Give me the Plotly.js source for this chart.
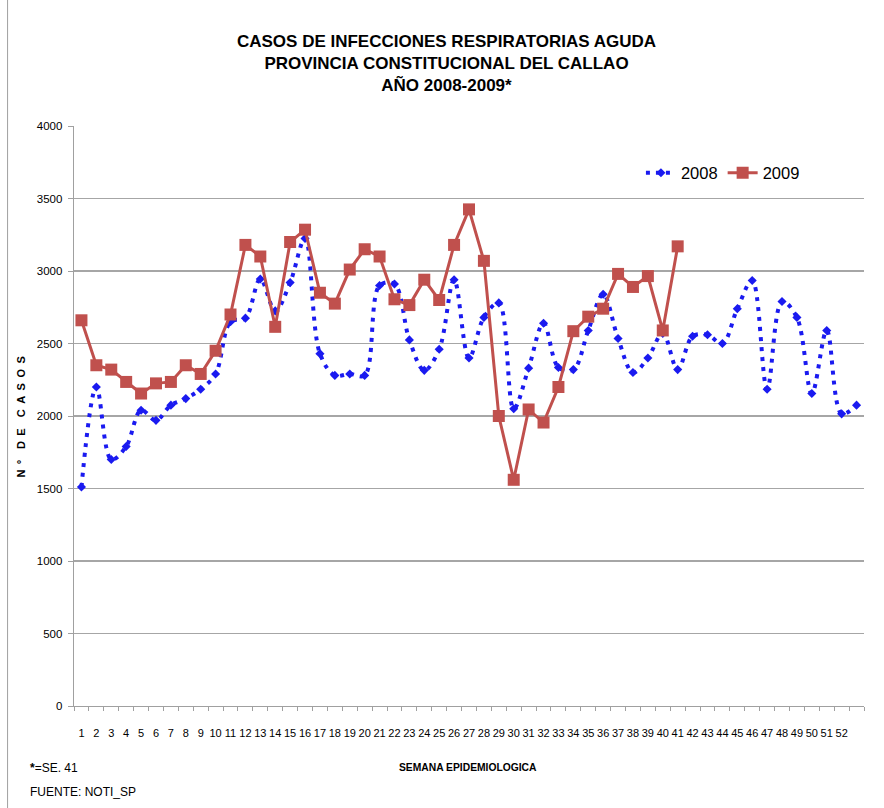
<!DOCTYPE html>
<html>
<head>
<meta charset="utf-8">
<script src="https://cdn.plot.ly/plotly-3.0.1.min.js"></script>
<style>
html,body{margin:0;padding:0;background:#fff;}
#chart{width:884px;height:808px;}
</style>
</head>
<body>
<div id="chart"></div>
<script>
// Semana epidemiológica (53 categories on the axis; week 53 has no label)
const weeks = [];
for (let i = 1; i <= 53; i++) weeks.push(i);
const tickLabels = [];
for (let i = 1; i <= 52; i++) tickLabels.push(String(i));
const tickPositions = weeks.slice(0, 52);

const casos2008 = [1510,2200,1700,1790,2040,1970,2075,2120,2185,2290,
                   2650,2675,2945,2725,2920,3225,2430,2280,2290,2280,
                   2900,2910,2525,2315,2460,2940,2400,2680,2780,2050,
                   2330,2640,2335,2320,2590,2840,2535,2300,2400,2570,
                   2320,2550,2560,2500,2740,2935,2185,2790,2680,2155,
                   2590,2015,2075];
const casos2009 = [2660,2350,2320,2235,2155,2225,2235,2350,2290,2450,
                   2700,3180,3100,2615,3200,3285,2850,2775,3010,3150,
                   3100,2805,2765,2940,2800,3180,3425,3070,2000,1560,
                   2045,1955,2200,2585,2685,2740,2980,2890,2965,2590,
                   3170];
const weeks2009 = weeks.slice(0, casos2009.length);

const titleText = 'CASOS DE INFECCIONES RESPIRATORIAS AGUDA<br>PROVINCIA CONSTITUCIONAL DEL CALLAO<br>AÑO 2008-2009*';
const yTitle = 'N\u2002º\u2002\u2002D\u2002E\u2002\u2002C\u2002A\u2002S\u2002O\u2002S';
const xTitle = 'SEMANA EPIDEMIOLOGICA';
const note1 = '<b>*</b>=SE. 41';
const note2 = 'FUENTE: NOTI_SP';

const SANS = 'Liberation Sans, Arial, sans-serif';

const traces = [
  {
    x: weeks, y: casos2008, name: '2008', type: 'scatter', mode: 'lines+markers',
    line: {color: '#1a1af0', width: 4, dash: '4px,6px', shape: 'spline', smoothing: 1},
    marker: {symbol: 'diamond', size: 7, color: '#1a1af0'}
  },
  {
    x: weeks2009, y: casos2009, name: '2009', type: 'scatter', mode: 'lines+markers',
    line: {color: '#c0504d', width: 3},
    marker: {symbol: 'square', size: 12, color: '#c0504d'}
  }
];

function px(X){ return (X - 73.5) / 790.8; }
function py(Y){ return (706 - Y) / 580; }

const annotations = [
  {text: '<b>' + yTitle + '</b>', x: px(20), y: py(417), textangle: -90, font: {family: SANS, size: 11, color: '#000'}},
  {text: '<b>' + xTitle + '</b>', x: px(467.5), y: py(767), font: {family: SANS, size: 10.3, color: '#000'}},
  {text: note1, x: px(27), y: py(768), xanchor: 'left', font: {family: SANS, size: 12, color: '#000'}},
  {text: note2, x: px(27), y: py(792), xanchor: 'left', font: {family: SANS, size: 12, color: '#000'}}
].map(a => Object.assign({xref: 'paper', yref: 'paper', showarrow: false, xanchor: 'center', yanchor: 'middle'}, a));

const layout = {
  width: 884, height: 808,
  margin: {l: 73.5, r: 19.7, t: 126, b: 102},
  paper_bgcolor: '#fff', plot_bgcolor: '#fff',
  title: {
    text: '<b>' + titleText + '</b>',
    font: {family: SANS, size: 17, color: '#000'},
    xref: 'container', x: 446.5 / 884, xanchor: 'center',
    yref: 'container', y: 1 - 47 / 808, yanchor: 'middle'
  },
  showlegend: true,
  legend: {orientation: 'h', x: px(641), y: py(173), xanchor: 'left', yanchor: 'middle',
           font: {family: SANS, size: 16.5, color: '#000'}, bgcolor: 'rgba(0,0,0,0)'},
  xaxis: {
    range: [0.5, 53.5], tickmode: 'array', tickvals: tickPositions, ticktext: tickLabels,
    tickangle: 0,
    showgrid: false, zeroline: false, showline: true, linecolor: '#a0a0a0', linewidth: 1.3,
    ticks: '', ticklabelstandoff: 16,
    tickfont: {family: SANS, size: 11, color: '#000'},
    minor: {tick0: 0.5, dtick: 1, ticks: 'outside', ticklen: 4, tickcolor: '#a0a0a0', tickwidth: 1, showgrid: false}
  },
  yaxis: {
    range: [0, 4000], tickmode: 'linear', tick0: 0, dtick: 500,
    showgrid: true, gridcolor: '#a6a6a6', gridwidth: 1.3, zeroline: false,
    showline: true, linecolor: '#a0a0a0', linewidth: 1.3,
    ticks: 'outside', ticklen: 5, tickcolor: '#a0a0a0', ticklabelstandoff: 3,
    tickfont: {family: SANS, size: 11.5, color: '#000'}
  },
  annotations: annotations,
  shapes: [
    {type: 'line', xref: 'paper', yref: 'paper', x0: px(7), x1: px(7), y0: py(808), y1: py(0),
     line: {color: '#a0a0a0', width: 1}}
  ]
};

Plotly.newPlot('chart', traces, layout, {displayModeBar: false, staticPlot: true});
</script>
</body>
</html>
